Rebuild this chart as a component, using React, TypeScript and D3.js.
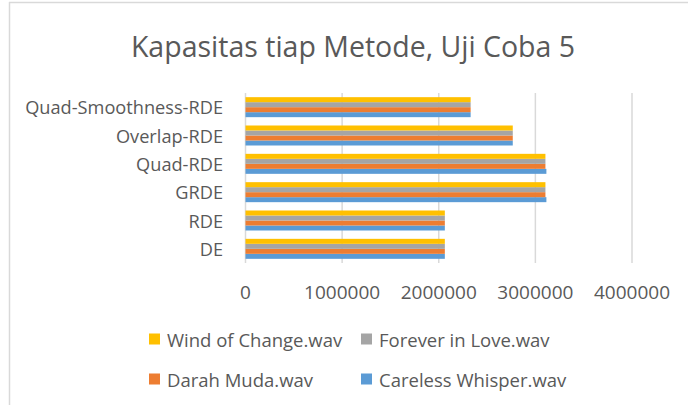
import React from 'react';
import * as d3 from 'd3';

const width = 688;
const height = 405;
const margin = {top: 93, right: 56, bottom: 142, left: 245.5};
const font = '"Open Sans", sans-serif';
const textColor = '#595959';
const gridColor = '#d9d9d9';

// categories listed bottom to top, as in the chart
const categories = ['DE', 'RDE', 'GRDE', 'Quad-RDE', 'Overlap-RDE', 'Quad-Smoothness-RDE'];
const seriesNames = ['Careless Whisper.wav', 'Darah Muda.wav', 'Forever in Love.wav', 'Wind of Change.wav'];
const seriesColors = ['#5b9bd5', '#ed7d31', '#a5a5a5', '#ffc000'];

const carelessWhisper = [2063000, 2063000, 3114000, 3114000, 2766000, 2330000];
const darahMuda = [2063000, 2063000, 3104000, 3104000, 2766000, 2330000];
const foreverInLove = [2063000, 2063000, 3104000, 3104000, 2766000, 2330000];
const windOfChange = [2063000, 2063000, 3104000, 3104000, 2766000, 2330000];
const seriesValues = [carelessWhisper, darahMuda, foreverInLove, windOfChange];

const xTicks = [0, 1000000, 2000000, 3000000, 4000000];

// legend order as shown: rows of two
const legendRows = [[3, 2], [1, 0]];

export default function App() {
    const x = d3.scaleLinear().domain([0, 4000000]).range([margin.left, width - margin.right]);
    // top category at top of plot
    const y = d3.scaleBand().domain([...categories].reverse()).range([margin.top, height - margin.bottom]).padding(0);
    const bw = y.bandwidth();
    const groupH = 20;
    // series 0 at the bottom of each group
    const inner = d3.scaleBand().domain(d3.range(4).map(String).reverse())
        .range([bw / 2 - groupH / 2, bw / 2 + groupH / 2]);

    return (
        <svg width={width} height={height} style={{position: 'absolute', left: 0, top: 0}}>
            <rect x={0} y={0} width={width} height={height} fill='#fff'/>
            <line x1={9.5} x2={9.5} y1={2} y2={height} stroke={gridColor} strokeWidth={1.5}/>
            <line x1={9} x2={width} y1={2.5} y2={2.5} stroke={gridColor} strokeWidth={1.5}/>
            <text x={353} y={46} textAnchor='middle' dominantBaseline='central'
                  fontFamily={font} fontSize={28.5} fill={textColor}>Kapasitas tiap Metode, Uji Coba 5</text>
            <g>
                {xTicks.map(t => (
                    <line key={t} x1={x(t)} x2={x(t)} y1={margin.top} y2={height - margin.bottom}
                          stroke={gridColor} strokeWidth={1.5}/>
                ))}
            </g>
            <g>
                {seriesValues.map((vals, si) => (
                    <g key={si} fill={seriesColors[si]}>
                        {categories.map((c, ci) => (
                            <rect key={c} x={x(0)} y={(y(c) as number) + (inner(String(si)) as number)}
                                  width={x(vals[ci]) - x(0)} height={inner.bandwidth()}/>
                        ))}
                    </g>
                ))}
            </g>
            <g fontFamily={font} fill={textColor}>
                {categories.map(c => (
                    <text key={c} x={223} y={(y(c) as number) + bw / 2} textAnchor='end'
                          dominantBaseline='central' fontSize={18.2}>{c}</text>
                ))}
                {xTicks.map(t => (
                    <text key={t} x={x(t)} y={292} textAnchor='middle' dominantBaseline='central'
                          fontSize={19}>{t}</text>
                ))}
            </g>
            <g fontFamily={font} fontSize={18.5} fill={textColor}>
                {legendRows.map((row, ri) => row.map((si, ci) => {
                    const lx = ci === 0 ? 149 : 361;
                    const ly = 339 + ri * 40;
                    return (
                        <g key={si}>
                            <rect x={lx} y={ly - 5.5} width={11} height={11} fill={seriesColors[si]}/>
                            <text x={lx + 18} y={ly} dominantBaseline='central'>{seriesNames[si]}</text>
                        </g>
                    );
                }))}
            </g>
        </svg>
    );
}
